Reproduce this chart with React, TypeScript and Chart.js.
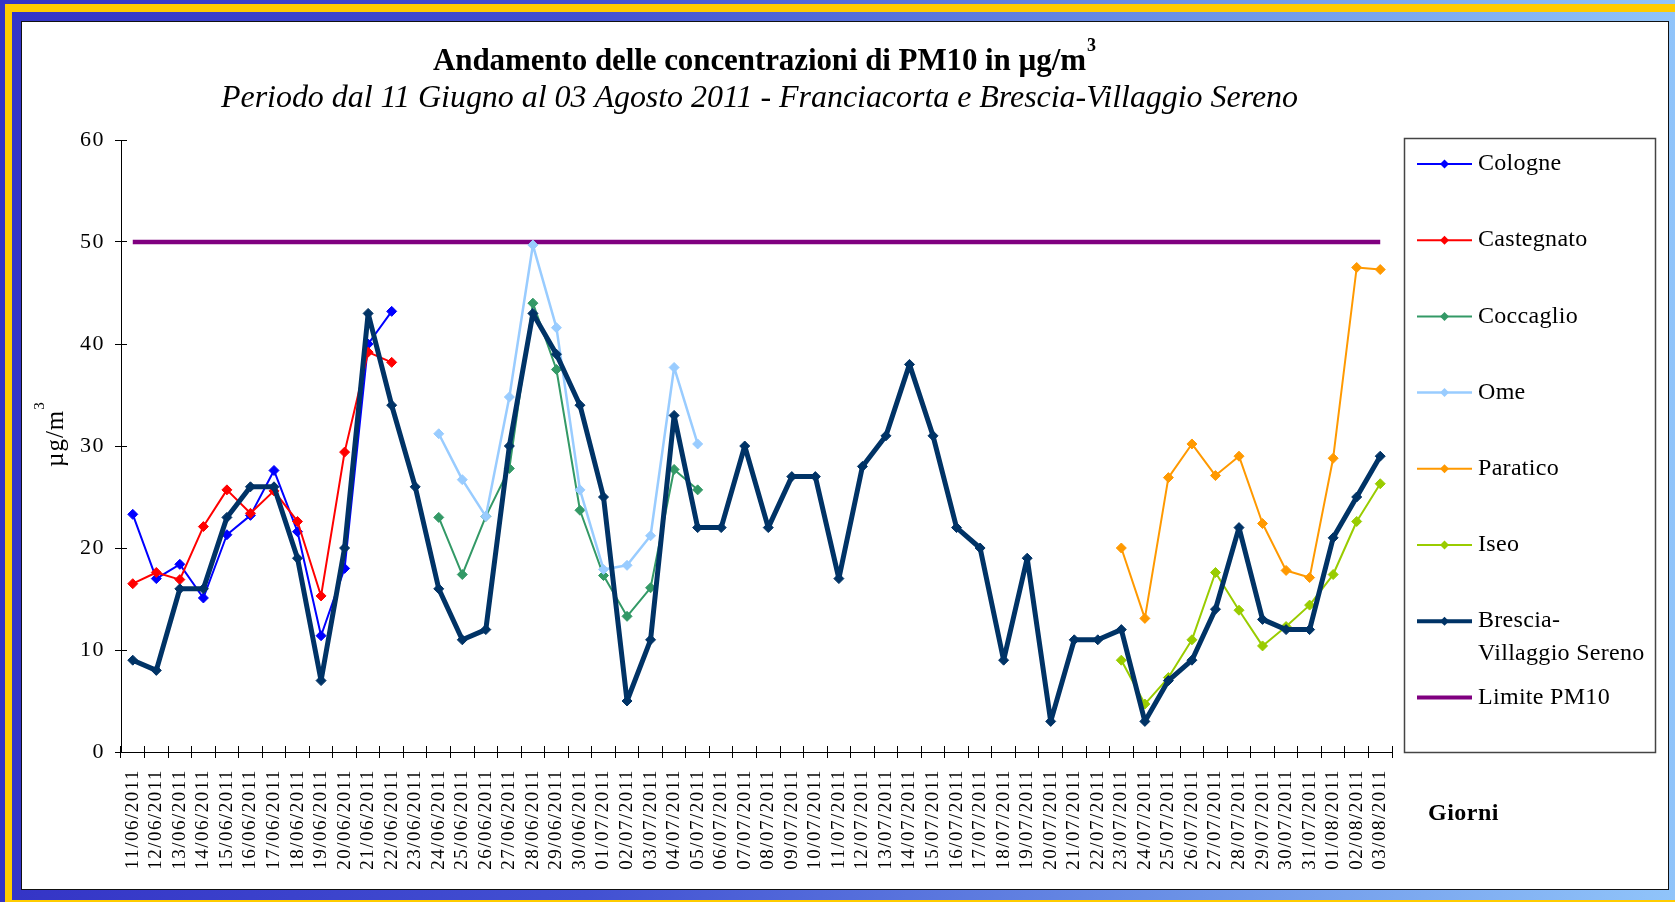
import React, { useEffect, useRef } from 'react';
import { Chart, registerables } from 'chart.js';

Chart.register(...registerables);

const W = 1675;
const H = 902;
const SERIF = '"Liberation Serif", "Times New Roman", Times, serif';

const _ = null;

const dates = [
  '11/06/2011', '12/06/2011', '13/06/2011', '14/06/2011', '15/06/2011', '16/06/2011', '17/06/2011',
  '18/06/2011', '19/06/2011', '20/06/2011', '21/06/2011', '22/06/2011', '23/06/2011', '24/06/2011',
  '25/06/2011', '26/06/2011', '27/06/2011', '28/06/2011', '29/06/2011', '30/06/2011', '01/07/2011',
  '02/07/2011', '03/07/2011', '04/07/2011', '05/07/2011', '06/07/2011', '07/07/2011', '08/07/2011',
  '09/07/2011', '10/07/2011', '11/07/2011', '12/07/2011', '13/07/2011', '14/07/2011', '15/07/2011',
  '16/07/2011', '17/07/2011', '18/07/2011', '19/07/2011', '20/07/2011', '21/07/2011', '22/07/2011',
  '23/07/2011', '24/07/2011', '25/07/2011', '26/07/2011', '27/07/2011', '28/07/2011', '29/07/2011',
  '30/07/2011', '31/07/2011', '01/08/2011', '02/08/2011', '03/08/2011',
];

const cologne = [
  23.3, 17.0, 18.4, 15.1, 21.3, 23.2, 27.6, 21.6, 11.4, 18.0, 40.0, 43.2, _, _, _, _, _, _, _, _,
  _, _, _, _, _, _, _, _, _, _, _, _, _, _, _, _, _, _, _, _, _, _, _, _, _, _, _, _, _, _, _, _, _, _,
];

const castegnato = [
  16.5, 17.6, 16.9, 22.1, 25.7, 23.4, 25.6, 22.6, 15.3, 29.4, 39.2, 38.2, _, _, _, _, _, _, _, _,
  _, _, _, _, _, _, _, _, _, _, _, _, _, _, _, _, _, _, _, _, _, _, _, _, _, _, _, _, _, _, _, _, _, _,
];

const coccaglio = [
  _, _, _, _, _, _, _, _, _, _, _, _, _, 23.0, 17.4, 23.1, 27.8, 44.0, 37.5, 23.7,
  17.3, 13.3, 16.1, 27.7, 25.7, _, _, _, _, _, _, _, _, _, _, _, _, _, _, _, _, _, _, _, _, _, _, _, _, _, _, _, _, _,
];

const ome = [
  _, _, _, _, _, _, _, _, _, _, _, _, _, 31.2, 26.7, 23.1, 34.8, 49.7, 41.6, 25.7,
  17.9, 18.3, 21.2, 37.7, 30.2, _, _, _, _, _, _, _, _, _, _, _, _, _, _, _, _, _, _, _, _, _, _, _, _, _, _, _, _, _,
];

const paratico = [
  _, _, _, _, _, _, _, _, _, _, _, _, _, _, _, _, _, _, _, _,
  _, _, _, _, _, _, _, _, _, _, _, _, _, _, _, _, _, _, _, _, _, _,
  20.0, 13.1, 26.9, 30.2, 27.1, 29.0, 22.4, 17.8, 17.1, 28.8, 47.5, 47.3,
];

const iseo = [
  _, _, _, _, _, _, _, _, _, _, _, _, _, _, _, _, _, _, _, _,
  _, _, _, _, _, _, _, _, _, _, _, _, _, _, _, _, _, _, _, _, _, _,
  9.0, 4.7, 7.3, 11.0, 17.6, 13.9, 10.4, 12.3, 14.4, 17.4, 22.6, 26.3,
];

const brescia = [
  9, 8, 16, 16, 23, 26, 26, 19, 7, 20, 43, 34, 26, 16, 11, 12, 30, 43, 39, 34,
  25, 5, 11, 33, 22, 22, 30, 22, 27, 27, 17, 28, 31, 38, 31, 22, 20, 9, 19, 3, 11, 11, 12, 3, 7, 9, 14, 22, 13, 12, 12,
  21, 25, 29,
];

const limite = [
  50, 50, 50, 50, 50, 50, 50, 50, 50, 50, 50, 50, 50, 50, 50, 50, 50, 50, 50, 50,
  50, 50, 50, 50, 50, 50, 50, 50, 50, 50, 50, 50, 50, 50, 50, 50, 50, 50, 50, 50, 50, 50, 50, 50, 50, 50, 50, 50, 50, 50, 50,
  50, 50, 50,
];

const yTicks = { min: 0, max: 60, step: 10 };

const titleMain = 'Andamento delle concentrazioni di PM10 in µg/m';
const titleSup = '3';
const subtitle = 'Periodo dal 11 Giugno al 03 Agosto 2011 - Franciacorta e Brescia-Villaggio Sereno';
const yTitle = 'µg/m';
const yTitleSup = '3';
const xTitle = 'Giorni';

const series = [
  { label: 'Cologne', data: cologne, color: '#0000FF', width: 2, order: 7 },
  { label: 'Castegnato', data: castegnato, color: '#FF0000', width: 2, order: 6 },
  { label: 'Coccaglio', data: coccaglio, color: '#339966', width: 2, order: 5 },
  { label: 'Ome', data: ome, color: '#99CCFF', width: 2.5, order: 4 },
  { label: 'Paratico', data: paratico, color: '#FF9900', width: 2, order: 3 },
  { label: 'Iseo', data: iseo, color: '#99CC00', width: 2, order: 2 },
  { label: 'Brescia-Villaggio Sereno', data: brescia, color: '#003366', width: 5, order: 1 },
  { label: 'Limite PM10', data: limite, color: '#800080', width: 4.5, order: 8, noMarker: true },
];

function fitText(ctx: CanvasRenderingContext2D, text: string, x0: number, target: number, y: number) {
  (ctx as any).letterSpacing = '0px';
  const w0 = ctx.measureText(text).width;
  const n = Array.from(text).length;
  const s = n > 1 ? (target - w0) / (n - 1) : 0;
  (ctx as any).letterSpacing = s.toFixed(3) + 'px';
  ctx.textAlign = 'left';
  ctx.fillText(text, x0, y);
  (ctx as any).letterSpacing = '0px';
}

const spacingPlugin = {
  id: 'spacing',
  beforeDraw(chart: any) {
    (chart.ctx as any).letterSpacing = '1.5px';
  },
  afterDatasetsDraw(chart: any) {
    (chart.ctx as any).letterSpacing = '0px';
  },
};

const decorPlugin = {
  id: 'decor',
  afterDraw(chart: any) {
    const ctx: CanvasRenderingContext2D = chart.ctx;
    const xs = chart.scales.x;
    const ys = chart.scales.y;
    ctx.save();

    // inner halves of the tick marks (ticks cross the axes)
    ctx.strokeStyle = '#000';
    ctx.lineWidth = 1;
    ctx.beginPath();
    const n = xs.ticks.length;
    const half = (xs.getPixelForTick(1) - xs.getPixelForTick(0)) / 2;
    for (let i = 0; i <= n; i++) {
      const px = i < n ? xs.getPixelForTick(i) - half : xs.getPixelForTick(n - 1) + half;
      const ax = Math.floor(px) + 0.5;
      ctx.moveTo(ax, xs.top);
      ctx.lineTo(ax, xs.top - 6);
    }
    ys.ticks.forEach((t: any) => {
      const py = Math.floor(ys.getPixelForValue(t.value)) + 0.5;
      ctx.moveTo(ys.right, py);
      ctx.lineTo(ys.right + 6, py);
    });
    ctx.stroke();

    ctx.fillStyle = '#000';
    ctx.textBaseline = 'alphabetic';

    // title
    ctx.font = `bold 31px ${SERIF}`;
    fitText(ctx, titleMain, 433, 653, 70);
    ctx.font = `bold 18px ${SERIF}`;
    ctx.textAlign = 'left';
    ctx.fillText(titleSup, 1087, 51);

    // subtitle
    ctx.font = `italic 32px ${SERIF}`;
    fitText(ctx, subtitle, 221, 1077, 107);

    // y axis title
    ctx.save();
    ctx.translate(63, 467);
    ctx.rotate(-Math.PI / 2);
    ctx.font = `25px ${SERIF}`;
    (ctx as any).letterSpacing = '1px';
    ctx.textAlign = 'left';
    ctx.fillText(yTitle, 0, 0);
    const wy = ctx.measureText(yTitle).width;
    ctx.font = `15px ${SERIF}`;
    ctx.fillText(yTitleSup, wy, -19);
    ctx.restore();

    // x axis title
    ctx.font = `bold 24px ${SERIF}`;
    (ctx as any).letterSpacing = '0.5px';
    ctx.textAlign = 'left';
    ctx.fillText(xTitle, 1428, 820);

    // legend box
    ctx.strokeStyle = '#444';
    ctx.lineWidth = 1.5;
    ctx.strokeRect(1404.5, 138.5, 251, 614);

    const row0 = 164;
    const rowH = 76.2;
    ctx.font = `24px ${SERIF}`;
    (ctx as any).letterSpacing = '0.3px';
    ctx.textBaseline = 'middle';
    chart.data.datasets.forEach((ds: any, i: number) => {
      const y = row0 + i * rowH;
      ctx.strokeStyle = ds.borderColor;
      ctx.lineWidth = Math.min(ds.borderWidth, 4);
      ctx.beginPath();
      ctx.moveTo(1417, y);
      ctx.lineTo(1472, y);
      ctx.stroke();
      if (ds.pointRadius > 0) {
        ctx.fillStyle = ds.borderColor;
        ctx.beginPath();
        ctx.moveTo(1444.5 - 4.5, y);
        ctx.lineTo(1444.5, y - 4.5);
        ctx.lineTo(1444.5 + 4.5, y);
        ctx.lineTo(1444.5, y + 4.5);
        ctx.closePath();
        ctx.fill();
      }
      ctx.fillStyle = '#000';
      const lines = String(ds.label).split(/(?<=-)/);
      lines.forEach((ln: string, k: number) => {
        ctx.fillText(ln, 1478, y + k * 32.5);
      });
    });

    ctx.restore();
  },
};

export default function App() {
  const ref = useRef<HTMLCanvasElement>(null);

  useEffect(() => {
    const canvas = ref.current;
    if (!canvas) return;
    const chart = new Chart(canvas, {
      type: 'line',
      data: {
        labels: dates,
        datasets: series.map((s) => ({
          label: s.label,
          data: s.data,
          borderColor: s.color,
          backgroundColor: s.color,
          pointBackgroundColor: s.color,
          pointBorderColor: s.color,
          borderWidth: s.width,
          pointStyle: 'rectRot',
          pointRadius: s.noMarker ? 0 : 5,
          pointBorderWidth: 1,
          borderJoinStyle: 'round',
          tension: 0,
          spanGaps: false,
          fill: false,
          order: s.order,
        })),
      },
      options: {
        responsive: false,
        animation: false,
        devicePixelRatio: 1,
        events: [],
        layout: { padding: { left: 0, top: 140, right: 283, bottom: 0 } },
        plugins: {
          legend: { display: false },
          title: { display: false },
          tooltip: { enabled: false },
        },
        scales: {
          x: {
            type: 'category',
            offset: true,
            grid: {
              offset: true,
              drawOnChartArea: false,
              drawTicks: true,
              tickLength: 6,
              color: '#000',
              lineWidth: 1,
            },
            border: { display: true, color: '#000', width: 1 },
            ticks: {
              autoSkip: false,
              maxRotation: 90,
              minRotation: 90,
              padding: 11,
              color: '#000',
              font: { family: SERIF, size: 19 },
            },
            afterFit: (s: any) => {
              s.height = 150;
            },
          },
          y: {
            min: yTicks.min,
            max: yTicks.max,
            ticks: {
              stepSize: yTicks.step,
              padding: 10,
              color: '#000',
              font: { family: SERIF, size: 22 },
            },
            grid: {
              drawOnChartArea: false,
              drawTicks: true,
              tickLength: 6,
              color: '#000',
              lineWidth: 1,
            },
            border: { display: true, color: '#000', width: 1 },
            afterFit: (s: any) => {
              s.width = 121;
            },
          },
        },
      },
      plugins: [spacingPlugin, decorPlugin],
    } as any);
    return () => chart.destroy();
  }, []);

  const grad = 'linear-gradient(90deg, #3434c6 0%, #4250d2 35%, #6a90e6 70%, #90c4fa 100%)';

  return (
    <div
      style={{
        position: 'absolute',
        left: 0,
        top: 0,
        width: W,
        height: H,
        overflow: 'hidden',
        background: grad,
      }}
    >
      <div style={{ position: 'absolute', left: 5, top: 4, width: 1700, height: 1000, background: '#FFCC00' }} />
      <div
        style={{
          position: 'absolute',
          left: 12,
          top: 12,
          width: 1700,
          height: 888,
          background: grad,
          backgroundSize: `${W}px 100%`,
          backgroundPosition: '-12px 0',
        }}
      />
      <div
        style={{
          position: 'absolute',
          left: 21,
          top: 21,
          width: 1648,
          height: 869,
          boxSizing: 'border-box',
          background: '#fff',
          border: '1.5px solid #111',
        }}
      />
      <canvas
        ref={ref}
        width={W}
        height={H}
        style={{ position: 'absolute', left: 0, top: 0, width: W, height: H }}
      />
    </div>
  );
}
